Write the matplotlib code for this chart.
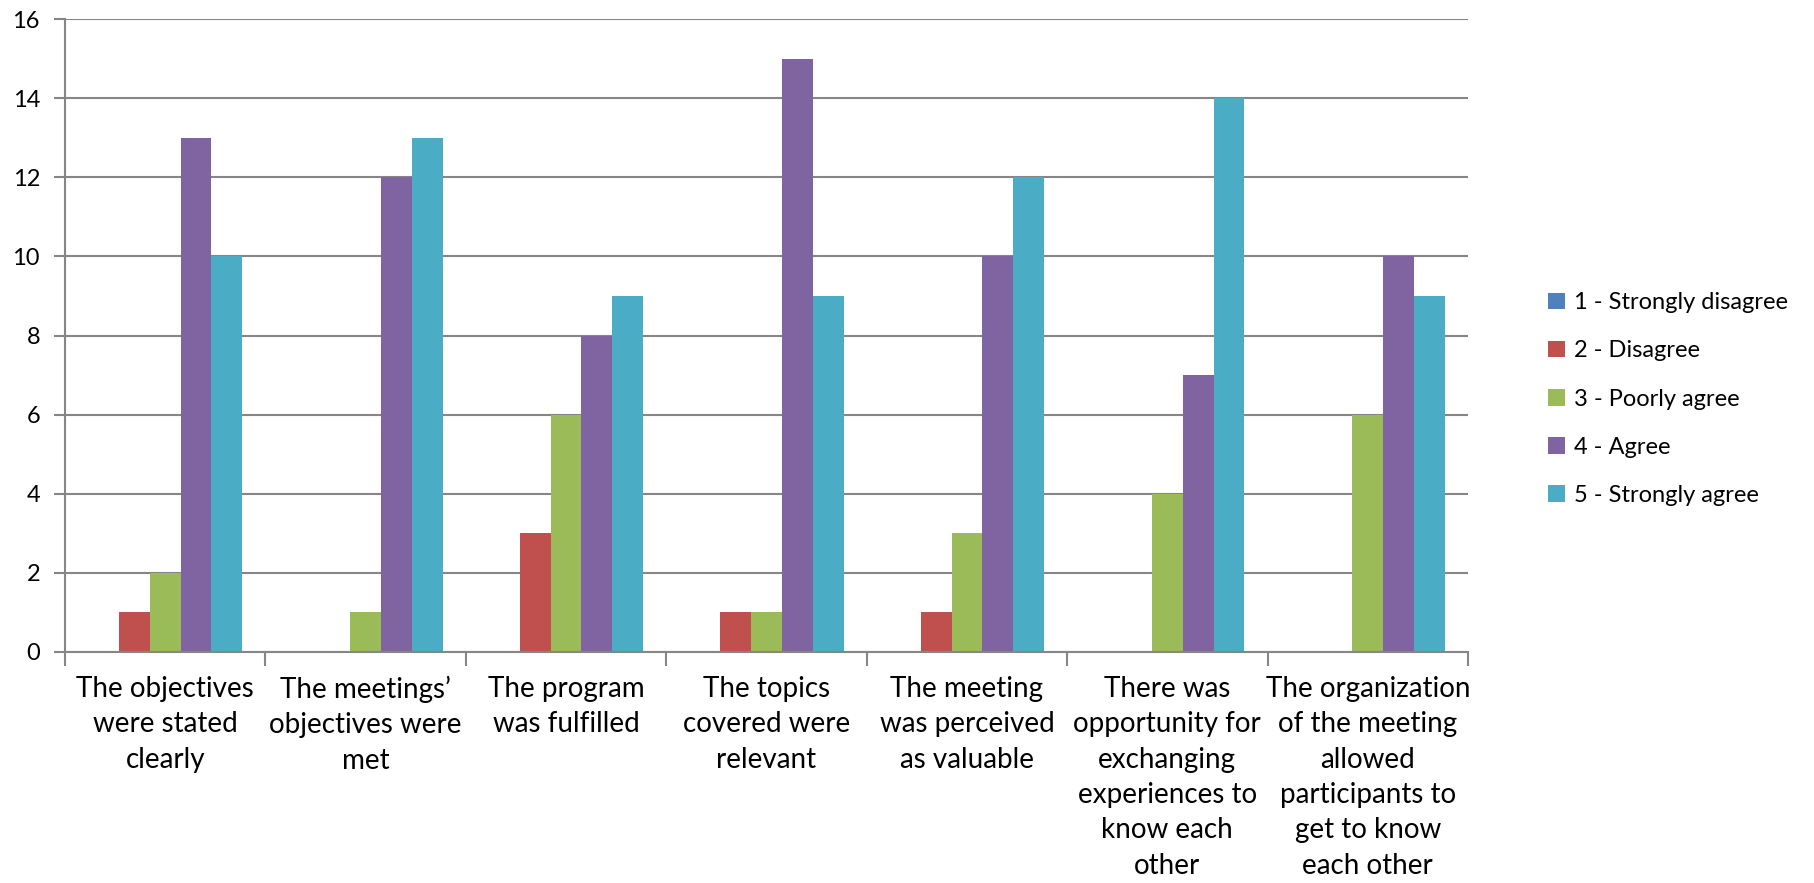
import numpy as np
import matplotlib
matplotlib.use("Agg")
import matplotlib.pyplot as plt

categories = [
    "The objectives\nwere stated\nclearly",
    "The meetings\u2019\nobjectives were\nmet",
    "The program\nwas fulfilled",
    "The topics\ncovered were\nrelevant",
    "The meeting\nwas perceived\nas valuable",
    "There was\nopportunity for\nexchanging\nexperiences to\nknow each\nother",
    "The organization\nof the meeting\nallowed\nparticipants to\nget to know\neach other",
]
series_names = ["1 - Strongly disagree", "2 - Disagree", "3 - Poorly agree",
                "4 - Agree", "5 - Strongly agree"]
strongly_disagree = [0, 0, 0, 0, 0, 0, 0]
disagree = [1, 0, 3, 1, 1, 0, 0]
poorly_agree = [2, 1, 6, 1, 3, 4, 6]
agree = [13, 12, 8, 15, 10, 7, 10]
strongly_agree = [10, 13, 9, 9, 12, 14, 9]
colors = ["#4F81BD", "#C0504D", "#9BBB59", "#8064A2", "#4BACC6"]

plt.rcParams['font.family'] = ['Lato', 'DejaVu Sans']

fig = plt.figure(figsize=(18.14, 8.83), dpi=100)
ax = fig.add_axes([65 / 1814, 1 - 652 / 883, (1468 - 65) / 1814, (652 - 19) / 883])

data = [strongly_disagree, disagree, poorly_agree, agree, strongly_agree]
x = np.arange(len(categories))
w = 1 / 6.5
for i, vals in enumerate(data):
    ax.bar(x + (i - 2) * w, vals, w, color=colors[i], label=series_names[i], zorder=3)

grid_c = "#868686"
ax.set_xlim(-0.5, len(categories) - 0.5)
ax.set_ylim(0, 16)
ax.set_yticks(range(0, 17, 2))
ax.yaxis.grid(True, color=grid_c, linewidth=1.5, zorder=0)
for s in ["top", "right"]:
    ax.spines[s].set_visible(False)
for s in ["left", "bottom"]:
    ax.spines[s].set_color(grid_c)
    ax.spines[s].set_linewidth(1.5)
    ax.spines[s].set_zorder(4)

ax.set_xticks(x)
ax.set_xticklabels(categories, fontsize=20, linespacing=1.45, va="top")
ax.tick_params(axis="x", which="major", length=0, pad=17)
ax.set_xticks(np.arange(-0.5, len(categories)), minor=True)
ax.tick_params(axis="x", which="minor", length=10, width=1.5, color=grid_c)
ax.tick_params(axis="y", length=8, width=1.5, color=grid_c, labelsize=17, pad=10)

ax.legend(loc="center left", bbox_to_anchor=(1548 / 1814, 0.548), bbox_transform=fig.transFigure,
          frameon=False, fontsize=17, handlelength=0.7, handleheight=0.7,
          handletextpad=0.4, labelspacing=1.15, borderpad=0, borderaxespad=0)

fig.savefig("out.png", dpi=100)
